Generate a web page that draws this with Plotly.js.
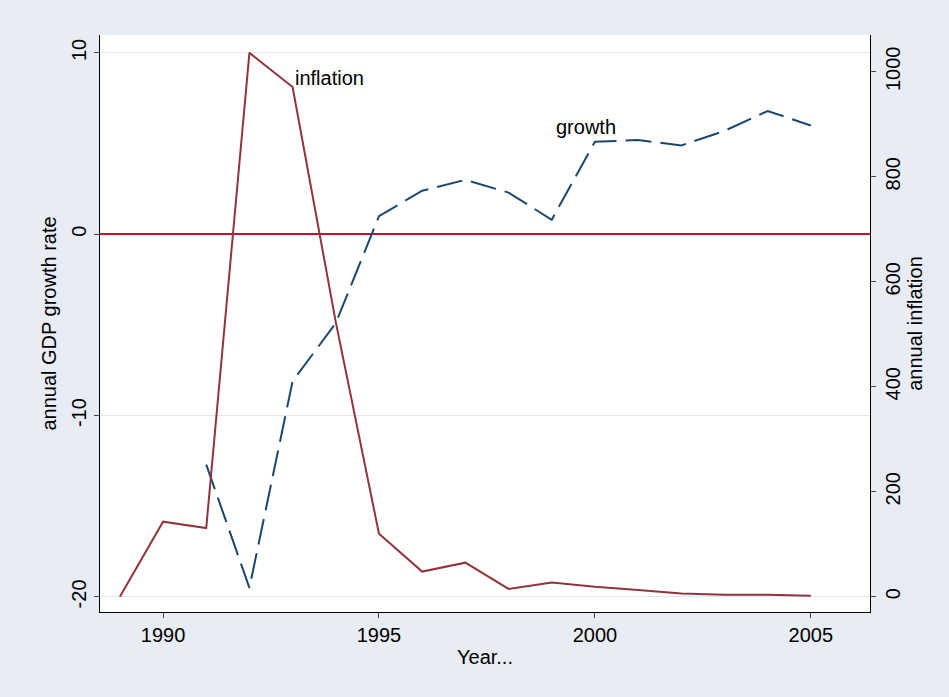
<!DOCTYPE html>
<html><head><meta charset="utf-8">
<script src="https://cdn.plot.ly/plotly-3.0.1.min.js"></script>
<style>body{margin:0}</style></head>
<body><div id="graph" style="width:949px;height:697px"></div>
<script>
var years = [1989,1990,1991,1992,1993,1994,1995,1996,1997,1998,1999,2000,2001,2002,2003,2004,2005]
var growthYears = [1991,1992,1993,1994,1995,1996,1997,1998,1999,2000,2001,2002,2003,2004,2005]
var growth = [-12.7,-19.5,-8.1,-4.9,1.0,2.4,3.0,2.3,0.8,5.1,5.2,4.9,5.7,6.8,6.0]
var inflation = [0,143,131,1036,971,523,120,48,65,15,27,19,13,6,4,4,2]
var leftTicks = [-20,-10,0,10]
var leftLabels = ['-20','-10','0','10']

var fnt = {family: 'Liberation Sans, Arial', size: 20, color: '#000'}

var trace1 = {x: years, y: inflation, yaxis: 'y2', type: 'scatter', mode: 'lines',
    line: {color: '#90353b', width: 2}, name: 'inflation'}
var trace2 = {x: growthYears, y: growth, type: 'scatter', mode: 'lines',
    line: {color: '#1a476f', width: 2, dash: '26px,9px'}, name: 'growth'}

var layout = {
    width: 949, height: 697,
    paper_bgcolor: '#e8ecf5', plot_bgcolor: '#fff',
    margin: {l: 100, r: 79, t: 35, b: 85},
    showlegend: false, font: fnt,
    xaxis: {range: [1988.54, 2006.37], tickvals: [1990,1995,2000,2005], ticks: 'outside',
        showgrid: false, zeroline: false, showline: true, linecolor: '#000',
        title: {text: 'Year...', font: fnt, standoff: 4}},
    yaxis: {range: [-20.83, 10.99], tickvals: leftTicks, ticktext: leftLabels, tickangle: -90, ticks: 'outside',
        gridcolor: '#e1e5ee', zeroline: true, zerolinecolor: '#c8102e', zerolinewidth: 2,
        showline: true, linecolor: '#000',
        title: {text: 'annual GDP growth rate', font: fnt, standoff: 6}},
    yaxis2: {overlaying: 'y', side: 'right', range: [-29, 1070], tickvals: [0,200,400,600,800,1000],
        tickangle: -90, ticks: 'outside', showgrid: false, zeroline: false,
        showline: true, linecolor: '#000',
        title: {text: 'annual inflation', font: fnt, standoff: 2}},
    annotations: [
        {x: 1993, y: 8.6, xref: 'x', yref: 'y', text: 'inflation', showarrow: false, xanchor: 'left', font: fnt},
        {x: 1999.8, y: 5.9, xref: 'x', yref: 'y', text: 'growth', showarrow: false, xanchor: 'center', font: fnt}
    ]
}

Plotly.newPlot('graph', [trace1, trace2], layout, {displayModeBar: false})
</script></body></html>
